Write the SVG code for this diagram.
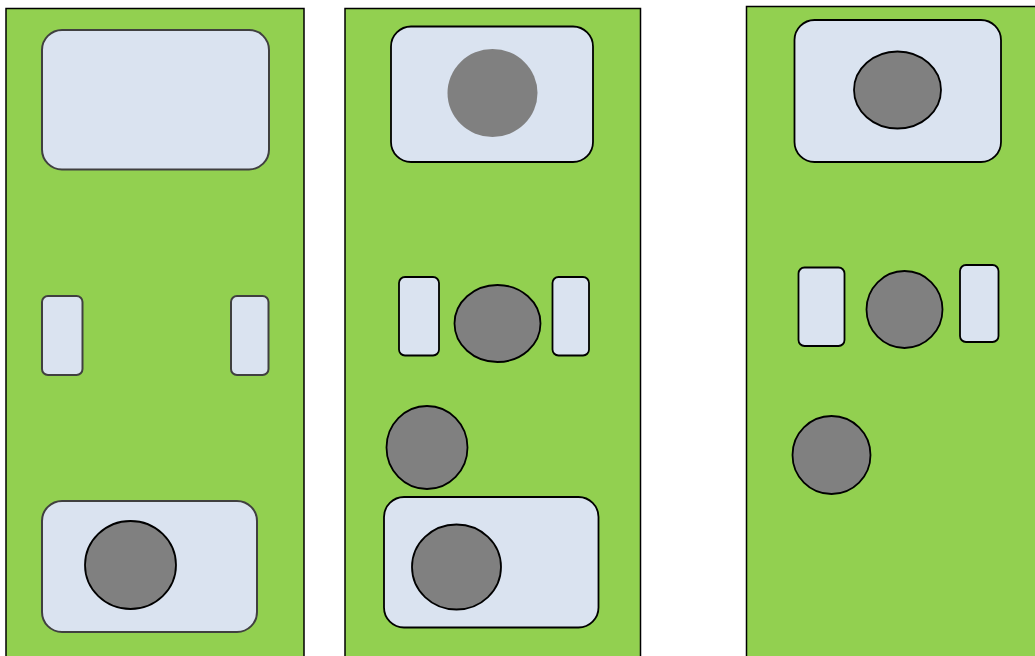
<svg xmlns="http://www.w3.org/2000/svg" width="1035" height="656" viewBox="0 0 1035 656">
  <style>
    .panel { fill: #92D050; stroke: #000; stroke-width: 1.5; }
    .box { fill: #DAE3F0; stroke: #000; stroke-width: 1.8; }
    .box1 { fill: #DAE3F0; stroke: #404040; stroke-width: 2; }
    .dot { fill: #808080; stroke: #000; stroke-width: 1.8; }
    .dotn { fill: #808080; stroke: none; }
  </style>
  <rect width="1035" height="656" fill="#fff"/>
  <g id="panel1">
    <rect class="panel" x="6" y="8.5" width="298" height="660"/>
    <rect class="box1" x="42" y="30" width="227" height="139.5" rx="20"/>
    <rect class="box1" x="42" y="296" width="40.5" height="79" rx="6"/>
    <rect class="box1" x="231" y="296" width="37.5" height="79" rx="6"/>
    <rect class="box1" x="42" y="501" width="215" height="131" rx="20"/>
    <ellipse class="dot" cx="130.5" cy="565" rx="45.5" ry="44"/>
  </g>
  <g id="panel2">
    <rect class="panel" x="345" y="8.5" width="295.5" height="660"/>
    <rect class="box" x="391" y="26.5" width="202" height="135.5" rx="20"/>
    <ellipse class="dotn" cx="492.5" cy="93" rx="45" ry="44"/>
    <rect class="box" x="399" y="277" width="40" height="78.5" rx="6"/>
    <ellipse class="dot" cx="497.5" cy="323.5" rx="43" ry="38.5"/>
    <rect class="box" x="552.5" y="277" width="36.5" height="78.5" rx="6"/>
    <ellipse class="dot" cx="427" cy="447.5" rx="40.5" ry="41.5"/>
    <rect class="box" x="384" y="497" width="214.5" height="130.5" rx="20"/>
    <ellipse class="dot" cx="456.5" cy="567" rx="44.5" ry="42.5"/>
  </g>
  <g id="panel3">
    <rect class="panel" x="746.5" y="6.5" width="300" height="660"/>
    <rect class="box" x="794.5" y="20" width="206.5" height="142" rx="20"/>
    <ellipse class="dot" cx="897.5" cy="90" rx="43.5" ry="38.5"/>
    <rect class="box" x="798.5" y="267.5" width="46" height="78.5" rx="6"/>
    <ellipse class="dot" cx="904.5" cy="309.5" rx="38" ry="38.5"/>
    <rect class="box" x="960" y="265" width="38.5" height="77" rx="6"/>
    <ellipse class="dot" cx="831.5" cy="455" rx="39" ry="39"/>
  </g>
</svg>
